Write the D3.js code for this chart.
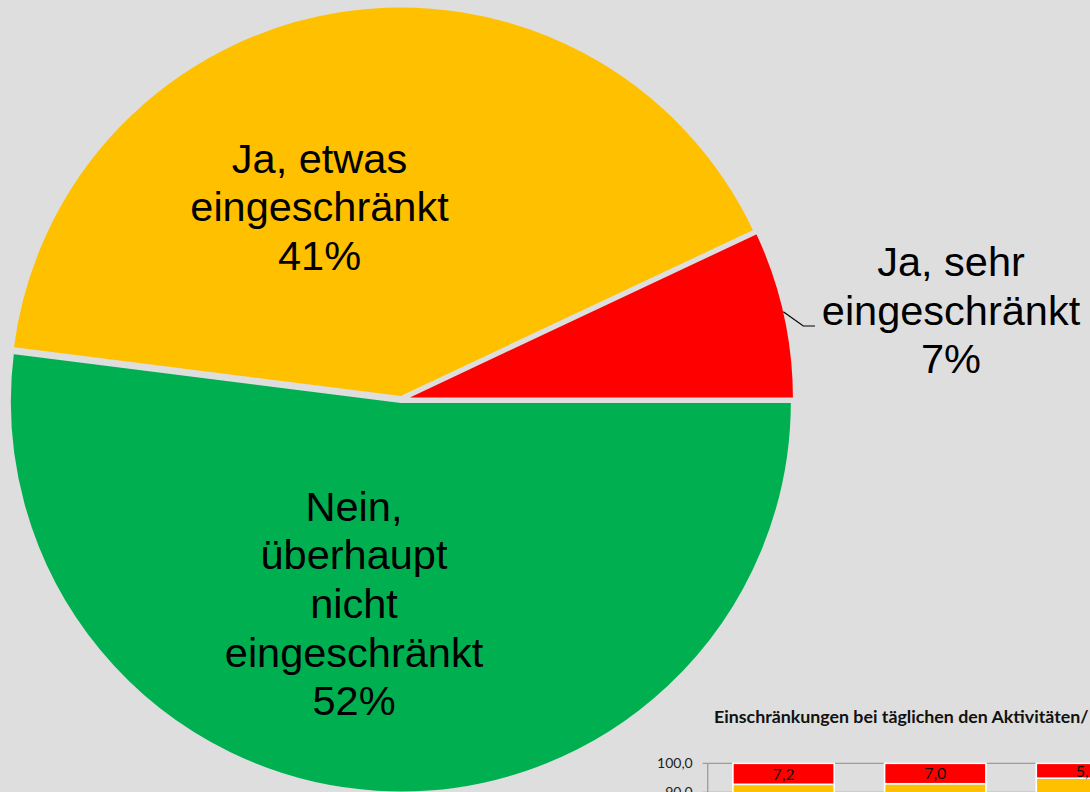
<!DOCTYPE html>
<html>
<head>
<meta charset="utf-8">
<script src="https://cdn.jsdelivr.net/npm/d3@7"></script>
<style>
body { margin: 0; background: #dedede; overflow: hidden; }
svg { display: block; }
.pie-label { font-family: "Liberation Sans", Arial, sans-serif; font-size: 41.5px; fill: #000; }
.inset-title { font-family: Lato, "Open Sans", sans-serif; font-weight: bold; font-size: 17.8px; fill: #111; }
.inset-tick { font-family: Lato, "Open Sans", sans-serif; font-size: 14px; fill: #222; }
.bar-label { font-family: Lato, "Open Sans", sans-serif; font-size: 16px; fill: #111; }
</style>
</head>
<body>
<div id="chart"></div>
<script>
// pie data
var pieNames = ["Ja, sehr eingeschränkt", "Ja, etwas eingeschränkt", "Nein, überhaupt nicht eingeschränkt"];
var pieValues = [7, 41, 52];
var pieColors = ["#ff0000", "#ffc000", "#00b050"];
var pieLines = [["Ja, sehr", "eingeschränkt"], ["Ja, etwas", "eingeschränkt"], ["Nein,", "überhaupt", "nicht", "eingeschränkt"]];

// inset stacked bars (only the top is visible)
var barGroups = ["g1", "g2", "g3"];
var sehrValues = [7.2, 7.0, 5.1];
var etwasValues = [40.8, 40.5, 38.4];
var nichtValues = [52.0, 52.5, 56.5];
var insetTitle = "Einschränkungen bei täglichen den Aktivitäten/";

var W = 1090, H = 792;
var svg = d3.select("#chart").append("svg")
	.attr("width", W)
	.attr("height", H);

// ---------- pie ----------
var cx = 401, cy = 399.5, R = 391.5, explode = 2;

var arc = d3.arc().innerRadius(0).outerRadius(R);

var slices = d3.pie()
	.sort(null)
	.value(function (d) { return d.value; })
	.startAngle(Math.PI / 2)
	.endAngle(Math.PI / 2 - 2 * Math.PI)(pieValues.map(function (v, i) {
		return {name: pieNames[i], value: v, color: pieColors[i], lines: pieLines[i]};
	}));

var pieG = svg.append("g").attr("transform", "translate(" + cx + "," + cy + ")");

pieG.selectAll("path.slice")
	.data(slices)
	.enter()
	.append("path")
	.classed("slice", true)
	.attr("d", arc)
	.attr("transform", function (d) {
		var a = (d.startAngle + d.endAngle) / 2;
		return "translate(" + (Math.sin(a) * explode) + "," + (-Math.cos(a) * explode) + ")";
	})
	.style("fill", function (d) { return d.data.color; })
	.style("stroke", "#dedede")
	.style("stroke-width", 3)
	.style("stroke-linejoin", "miter");

// label placement (centre x, baseline of first line)
var labelPos = [
	{x: 951, y: 276},
	{x: 319.5, y: 172.7},
	{x: 354, y: 520.7}
];
var lineH = 48.6;
var pct = d3.format(".0%");

slices.forEach(function (d, i) {
	var t = svg.append("text")
		.classed("pie-label", true)
		.attr("text-anchor", "middle");
	var lines = d.data.lines.concat([pct(d.data.value / 100)]);
	lines.forEach(function (s, j) {
		t.append("tspan")
			.attr("x", labelPos[i].x)
			.attr("y", labelPos[i].y + j * lineH)
			.text(s);
	});
});

// leader line for the small red slice
svg.append("path")
	.attr("d", "M783.3,311.7 L803.3,326 L815,326")
	.style("fill", "none")
	.style("stroke", "#000")
	.style("stroke-width", 1.2);

// ---------- inset chart ----------
var x = d3.scaleBand()
	.domain(barGroups)
	.range([707.7, 707.7 + 3 * 151.7])
	.paddingInner(0.332)
	.paddingOuter(0.166);

var y = d3.scaleLinear()
	.domain([0, 100])
	.range([763.3 + 292, 763.3]);

var de = d3.formatLocale({decimal: ",", thousands: ".", grouping: [3], currency: ["", " €"]});
var f1 = de.format(".1f");

svg.append("text")
	.classed("inset-title", true)
	.attr("x", 714)
	.attr("y", 723.3)
	.text(insetTitle);

// only the ticks that fall inside the picture
var ticks = y.ticks(10).filter(function (d) { return y(d) < H + 5; });

svg.append("g").selectAll("line.grid")
	.data(ticks)
	.enter()
	.append("line")
	.attr("x1", 702.7)
	.attr("x2", W)
	.attr("y1", function (d) { return y(d); })
	.attr("y2", function (d) { return y(d); })
	.style("stroke", "#9c9c9c")
	.style("stroke-width", 1.3);

svg.append("line")
	.attr("x1", 707.7).attr("x2", 707.7)
	.attr("y1", y(100)).attr("y2", y(0))
	.style("stroke", "#9c9c9c")
	.style("stroke-width", 1.3);

svg.append("g").selectAll("text")
	.data(ticks)
	.enter()
	.append("text")
	.classed("inset-tick", true)
	.attr("x", 692.7)
	.attr("y", function (d) { return y(d); })
	.attr("dy", "0.35em")
	.attr("text-anchor", "end")
	.text(function (d) { return f1(d); });

var rows = barGroups.map(function (g, i) {
	return {group: g, nicht: nichtValues[i], etwas: etwasValues[i], sehr: sehrValues[i]};
});
var keys = ["nicht", "etwas", "sehr"];
var keyColor = {nicht: "#00b050", etwas: "#ffc000", sehr: "#ff0000"};
var stack = d3.stack().keys(keys)(rows);

var layer = svg.append("g").selectAll("g")
	.data(stack)
	.enter()
	.append("g")
	.style("fill", function (d) { return keyColor[d.key]; });

layer.selectAll("rect")
	.data(function (d) { return d; })
	.enter()
	.append("rect")
	.attr("x", function (d) { return x(d.data.group); })
	.attr("width", x.bandwidth())
	.attr("y", function (d) { return y(d[1]); })
	.attr("height", function (d) { return y(d[0]) - y(d[1]); })
	.style("stroke", "#fff")
	.style("stroke-width", 1.6);

// value labels for the red segments
svg.append("g").selectAll("text")
	.data(stack[2])
	.enter()
	.append("text")
	.classed("bar-label", true)
	.attr("x", function (d) { return x(d.data.group) + x.bandwidth() / 2; })
	.attr("y", function (d) { return (y(d[0]) + y(d[1])) / 2; })
	.attr("dy", "0.36em")
	.attr("text-anchor", "middle")
	.text(function (d) { return f1(d.data.sehr); });
</script>
</body>
</html>
